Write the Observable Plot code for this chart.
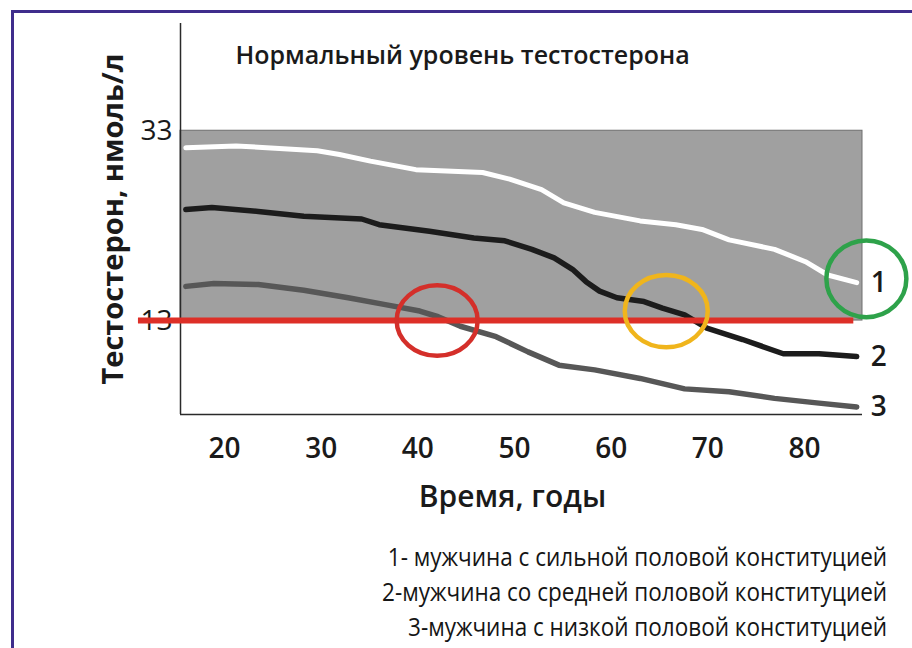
<!DOCTYPE html>
<html><head><meta charset="utf-8">
<script src="https://cdn.jsdelivr.net/npm/d3@7"></script>
<script src="https://cdn.jsdelivr.net/npm/@observablehq/plot@0.6"></script>
<style>
body{margin:0;background:#fff;}
#wrap{position:relative;width:912px;height:648px;overflow:hidden;background:#fff;font-family:"Open Sans",sans-serif;}
#border{position:absolute;left:11px;top:10px;right:-10px;bottom:-10px;border-left:3px solid #3f2d8c;border-top:3px solid #3f2d8c;}
#chart{position:absolute;left:0;top:0;}
#legend{position:absolute;right:25px;top:539px;text-align:right;color:#151515;font-size:25px;font-weight:500;line-height:35px;}
#legend div{transform:scaleX(0.9);transform-origin:right center;white-space:nowrap;}
</style></head>
<body><div id="wrap"><div id="border"></div><div id="chart"></div><div id="legend"></div></div>
<script>
// ---- data ----
const xTicks = [20, 30, 40, 50, 60, 70, 80];
const yTicks = [13, 33];
const normalRange = [13, 33];
const threshold = 13;
const thresholdAges = [11.1, 85.1];

const ages1   = [16.0, 21.2, 29.6, 31.9, 35.1, 39.8, 46.7, 49.5, 52.8, 55.1, 58.3, 63.0, 66.7, 69.4, 72.2, 76.9, 80.1, 82.4, 85.4];
const values1 = [31.2, 31.4, 30.9, 30.5, 29.8, 28.9, 28.6, 27.9, 26.8, 25.4, 24.4, 23.5, 23.1, 22.6, 21.5, 20.5, 19.2, 17.8, 17.0];

const ages2   = [16.0, 18.7, 23.5, 28.2, 34.2, 36.0, 41.2, 45.8, 49.0, 51.8, 54.1, 56.0, 57.4, 58.8, 60.6, 63.4, 65.3, 67.6, 69.9, 73.6, 77.8, 81.5, 85.4];
const values2 = [24.7, 24.9, 24.5, 24.0, 23.7, 23.1, 22.4, 21.7, 21.4, 20.5, 19.6, 18.4, 17.1, 16.1, 15.4, 15.0, 14.3, 13.6, 12.2, 11.0, 9.5, 9.5, 9.2];

const ages3   = [16.0, 18.9, 23.5, 28.2, 32.8, 36.5, 40.2, 42.1, 44.4, 48.1, 51.4, 54.6, 58.3, 63.0, 67.6, 72.2, 76.9, 81.5, 85.4];
const values3 = [16.6, 16.9, 16.8, 16.2, 15.4, 14.7, 14.0, 13.4, 12.4, 11.3, 9.7, 8.3, 7.8, 6.9, 5.8, 5.5, 4.8, 4.3, 3.9];

const circleAges   = [42.0, 65.7, 86.4];
const circleValues = [13.0, 14.0, 17.4];

const seriesLabels = ["1", "2", "3"];
const titleText = "Нормальный уровень тестостерона";
const yLabel = "Тестостерон, нмоль/л";
const xLabel = "Время, годы";
const legendLines = [
  "1- мужчина с сильной половой конституцией",
  "2-мужчина со средней половой конституцией",
  "3-мужчина с низкой половой конституцией"
];

// ---- build ----
const s1 = ages1.map((a, i) => ({age: a, v: values1[i]}));
const s2 = ages2.map((a, i) => ({age: a, v: values2[i]}));
const s3 = ages3.map((a, i) => ({age: a, v: values3[i]}));
const ends = [s1, s2, s3].map((s, i) => ({...s[s.length - 1], label: seriesLabels[i]}));
const circles = circleAges.map((a, i) => ({age: a, v: circleValues[i]}));

const xDomain = [15.45, 86.0];
const yDomain = [3.1, 44.3];

const ellipse = (k) => ({
  draw(ctx, size) {
    const r = Math.sqrt(size / Math.PI), rx = r, ry = r * k, c = 0.5523;
    ctx.moveTo(rx, 0);
    ctx.bezierCurveTo(rx, ry * c, rx * c, ry, 0, ry);
    ctx.bezierCurveTo(-rx * c, ry, -rx, ry * c, -rx, 0);
    ctx.bezierCurveTo(-rx, -ry * c, -rx * c, -ry, 0, -ry);
    ctx.bezierCurveTo(rx * c, -ry, rx, -ry * c, rx, 0);
    ctx.closePath();
  }
});

const chart = Plot.plot({
  width: 912, height: 530,
  marginTop: 23, marginLeft: 180, marginRight: 50, marginBottom: 116,
  style: {fontFamily: "'Open Sans', sans-serif", background: "transparent", overflow: "visible", color: "#1a1a1a"},
  x: {domain: xDomain},
  y: {domain: yDomain},
  marks: [
    Plot.rect([normalRange], {y1: d => d[0], y2: d => d[1], fill: "#a0a0a0", stroke: "#6e6e6e", strokeWidth: 1}),
    Plot.ruleX([xDomain[0]], {stroke: "#2a2a2a", strokeWidth: 1.5}),
    Plot.ruleY([yDomain[0]], {stroke: "#2a2a2a", strokeWidth: 1.5}),
    Plot.axisX({ticks: xTicks, tickSize: 0, tickPadding: 24, label: null, fontSize: 28, fontWeight: 600, tickFormat: d => String(d)}),
    Plot.axisY({ticks: yTicks, tickSize: 0, tickPadding: 8, label: null, fontSize: 28, fontWeight: 400}),
    Plot.line(s3, {x: "age", y: "v", stroke: "#575757", strokeWidth: 5.5, strokeLinejoin: "round", strokeLinecap: "round"}),
    Plot.line(s2, {x: "age", y: "v", stroke: "#1c1c1c", strokeWidth: 5.5, strokeLinejoin: "round", strokeLinecap: "round"}),
    Plot.line(s1, {x: "age", y: "v", stroke: "#ffffff", strokeWidth: 5, strokeLinejoin: "round", strokeLinecap: "round"}),
    Plot.ruleY([threshold], {x1: thresholdAges[0], x2: thresholdAges[1], stroke: "#dd2f27", strokeWidth: 6}),
    Plot.dot(circles.slice(0, 1), {x: "age", y: "v", r: 40.5, symbol: ellipse(0.87), stroke: "#d42f2a", strokeWidth: 4.5, fill: "none"}),
    Plot.dot(circles.slice(1, 2), {x: "age", y: "v", r: 41.5, symbol: ellipse(0.87), stroke: "#f0b51c", strokeWidth: 4.5, fill: "none"}),
    Plot.dot(circles.slice(2, 3), {x: "age", y: "v", r: 40, symbol: ellipse(0.96), stroke: "#2ea24a", strokeWidth: 4.5, fill: "none"}),
    Plot.text(ends, {x: "age", y: "v", text: "label", dx: 22, textAnchor: "middle", fontSize: 28, fontWeight: 600, fill: "#1a1a1a"}),
    Plot.text([titleText], {frameAnchor: "top-left", dx: 55, dy: 32, textAnchor: "start", lineAnchor: "middle", fontSize: 25, fontWeight: 600, fill: "#1a1a1a"}),
    Plot.text([yLabel], {frameAnchor: "left", dx: -67, rotate: -90, textAnchor: "middle", lineAnchor: "middle", fontSize: 29, fontWeight: 700, fill: "#1a1a1a"}),
    Plot.text([xLabel], {frameAnchor: "bottom", dx: -9, dy: 83, textAnchor: "middle", lineAnchor: "middle", fontSize: 30, fontWeight: 600, fill: "#1a1a1a"})
  ]
});
document.getElementById("chart").appendChild(chart);
const lg = document.getElementById("legend");
for (const t of legendLines) { const d = document.createElement("div"); d.textContent = t; lg.appendChild(d); }
</script>
</body></html>
